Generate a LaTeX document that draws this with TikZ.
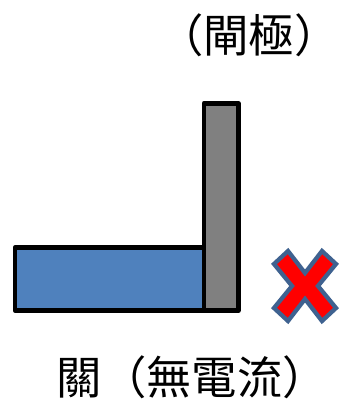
\documentclass[tikz,border=0pt]{standalone}
\usepackage{fontspec}
\newfontfamily\cjk{Noto Sans CJK TC}
\definecolor{boxblue}{HTML}{4F81BD}
\definecolor{boxgray}{HTML}{808080}
\definecolor{xred}{HTML}{FF0000}
\definecolor{xedge}{HTML}{3F6290}
\tikzset{
  slab/.style={draw=black, line width=3.5pt, line join=round},
  label/.style={font=\cjk\fontsize{34}{34}\selectfont, inner sep=0pt},
  cross/.style={fill=xred, draw=xedge, line width=3.2pt, line join=miter}
}
\begin{document}
\begin{tikzpicture}[x=0.75pt,y=-0.75pt]
\useasboundingbox (0,0) rectangle (340,401);
\draw[slab, fill=boxblue] (15,247.5) rectangle (204,310.5);
\draw[slab, fill=boxgray] (204,103.3) rectangle (238.3,310.5);
\coordinate (xc) at (305,286);
\draw[cross, shift={(xc)}]
  (-31,-22) -- (-17,-35) -- (0,-13) -- (17,-35) -- (31,-22) -- (13,0)
  -- (31,22) -- (17,35) -- (0,13) -- (-17,35) -- (-31,22) -- (-13,0) -- cycle;
\node[label] (gate) at (249,35) {（閘極）};
\node[label] (off) at (192,377) {關（無電流）};
\end{tikzpicture}
\end{document}
